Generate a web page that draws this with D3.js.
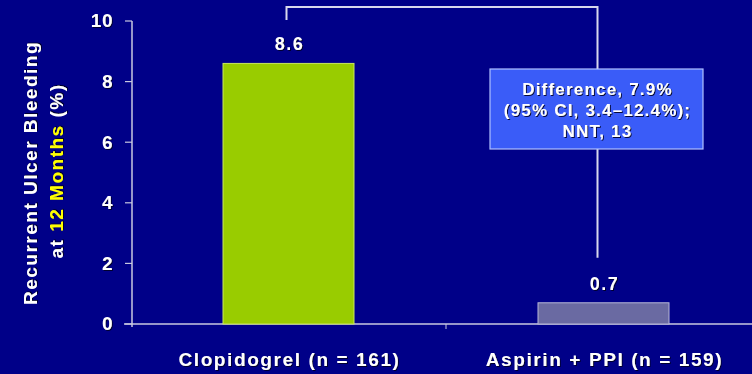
<!DOCTYPE html>
<html>
<head>
<meta charset="utf-8">
<script src="https://cdn.jsdelivr.net/npm/d3@7"></script>
<style>
  html, body { margin: 0; padding: 0; background: #000088; }
  svg { display: block; }
  text { font-family: "Liberation Sans", Arial, sans-serif; font-weight: bold; }
</style>
</head>
<body>
<script>
// Chart data
const categories = ["Clopidogrel (n = 161)", "Aspirin + PPI (n = 159)"];
const values = [8.6, 0.7];
const valueLabels = ["8.6", "0.7"];
const barColors = ["#99cc00", "#6a6aa2"];
const yTicks = [0, 2, 4, 6, 8, 10];
const noteLines = ["Difference, 7.9%", "(95% CI, 3.4\u201312.4%);", "NNT, 13"];

const W = 752, H = 374;
const svg = d3.select("body").append("svg").attr("width", W).attr("height", H);

const defs = svg.append("defs");
const f = defs.append("filter").attr("id", "shadow").attr("x", "-10%").attr("y", "-10%").attr("width", "120%").attr("height", "130%");
f.append("feDropShadow").attr("dx", 1).attr("dy", 1).attr("stdDeviation", 0.6).attr("flood-color", "#000022").attr("flood-opacity", 0.9);

svg.append("rect").attr("width", W).attr("height", H).attr("fill", "#000088");

const y = d3.scaleLinear().domain([0, 10]).range([324, 21]);
const x = d3.scaleBand().domain(categories).range([131, 761]).paddingInner(0).paddingOuter(0);
const barW = 131;

// Axes
const axisColor = "#c8c8e0";
svg.append("line").attr("x1", 132).attr("x2", 132).attr("y1", y(10)).attr("y2", y(0) + 3)
  .attr("stroke", axisColor).attr("stroke-width", 1.5);
svg.append("line").attr("x1", 124).attr("x2", W).attr("y1", y(0)).attr("y2", y(0))
  .attr("stroke", axisColor).attr("stroke-width", 1.5);

const yAxis = svg.append("g").selectAll("g").data(yTicks).join("g")
  .attr("transform", d => `translate(0,${y(d)})`);
yAxis.append("line").attr("x1", 125).attr("x2", 132).attr("stroke", axisColor).attr("stroke-width", 1.2);
yAxis.append("text").attr("x", 113).attr("dy", "0.34em").attr("text-anchor", "end")
  .attr("fill", "#ffffff").attr("font-size", 19).attr("letter-spacing", 0.5)
  .attr("filter", "url(#shadow)")
  .text(d => d);

// Tick between categories
svg.append("line").attr("x1", x(categories[1])).attr("x2", x(categories[1]))
  .attr("y1", y(0)).attr("y2", y(0) + 5).attr("stroke", axisColor).attr("stroke-width", 1);

// Bars
svg.append("g").selectAll("rect").data(values).join("rect")
  .attr("x", (d, i) => x(categories[i]) + (x.bandwidth() - barW) / 2)
  .attr("y", d => y(d))
  .attr("width", barW)
  .attr("height", d => y(0) - y(d))
  .attr("fill", (d, i) => barColors[i])
  .attr("stroke", (d, i) => i === 0 ? "#c8e860" : "#b8b8d8")
  .attr("stroke-width", 1);

// Value labels
svg.append("g").selectAll("text").data(values).join("text")
  .attr("x", (d, i) => x(categories[i]) + x.bandwidth() / 2 + 1)
  .attr("y", d => y(d) - 13)
  .attr("text-anchor", "middle").attr("fill", "#ffffff").attr("font-size", 18)
  .attr("letter-spacing", 1.5).attr("filter", "url(#shadow)")
  .text((d, i) => valueLabels[i]);

// Category labels
svg.append("g").selectAll("text").data(categories).join("text")
  .attr("x", d => x(d) + x.bandwidth() / 2 + 1)
  .attr("y", 366)
  .attr("text-anchor", "middle").attr("fill", "#ffffff").attr("font-size", 19)
  .attr("letter-spacing", 1.6).attr("filter", "url(#shadow)")
  .text(d => d);

// Y axis title
const yt = svg.append("g").attr("transform", "translate(0,173) rotate(-90)");
yt.append("text").attr("x", 0).attr("y", 37).attr("text-anchor", "middle")
  .attr("fill", "#ffffff").attr("font-size", 19).attr("letter-spacing", 1.5)
  .attr("filter", "url(#shadow)")
  .text("Recurrent Ulcer Bleeding");
const t2 = yt.append("text").attr("x", 2).attr("y", 63).attr("text-anchor", "middle")
  .attr("font-size", 19).attr("letter-spacing", 1.5).attr("filter", "url(#shadow)");
t2.append("tspan").attr("fill", "#ffffff").text("at ");
t2.append("tspan").attr("fill", "#ffff00").text("12 Months");
t2.append("tspan").attr("fill", "#ffffff").text(" (%)");

// Comparison bracket
const cx1 = x(categories[0]) + x.bandwidth() / 2 - 2;
const cx2 = x(categories[1]) + x.bandwidth() / 2 - 6;
const topY = 7;
svg.append("path")
  .attr("d", `M${cx1},20 V${topY} H${cx2} V${y(values[1]) - 45}`)
  .attr("fill", "none").attr("stroke", "#d8d8ec").attr("stroke-width", 2);

// Note box
const boxX = 490, boxY = 69, boxW = 213, boxH = 80;
svg.append("rect").attr("x", boxX).attr("y", boxY).attr("width", boxW).attr("height", boxH)
  .attr("fill", "#3a5cf8").attr("stroke", "#b0c0ff").attr("stroke-width", 1.2);
svg.append("g").selectAll("text").data(noteLines).join("text")
  .attr("x", boxX + boxW / 2 + 1)
  .attr("y", (d, i) => boxY + 25.5 + i * 21)
  .attr("text-anchor", "middle").attr("fill", "#ffffff").attr("font-size", 17)
  .attr("letter-spacing", 1.2).attr("filter", "url(#shadow)")
  .text(d => d);
</script>
</body>
</html>
